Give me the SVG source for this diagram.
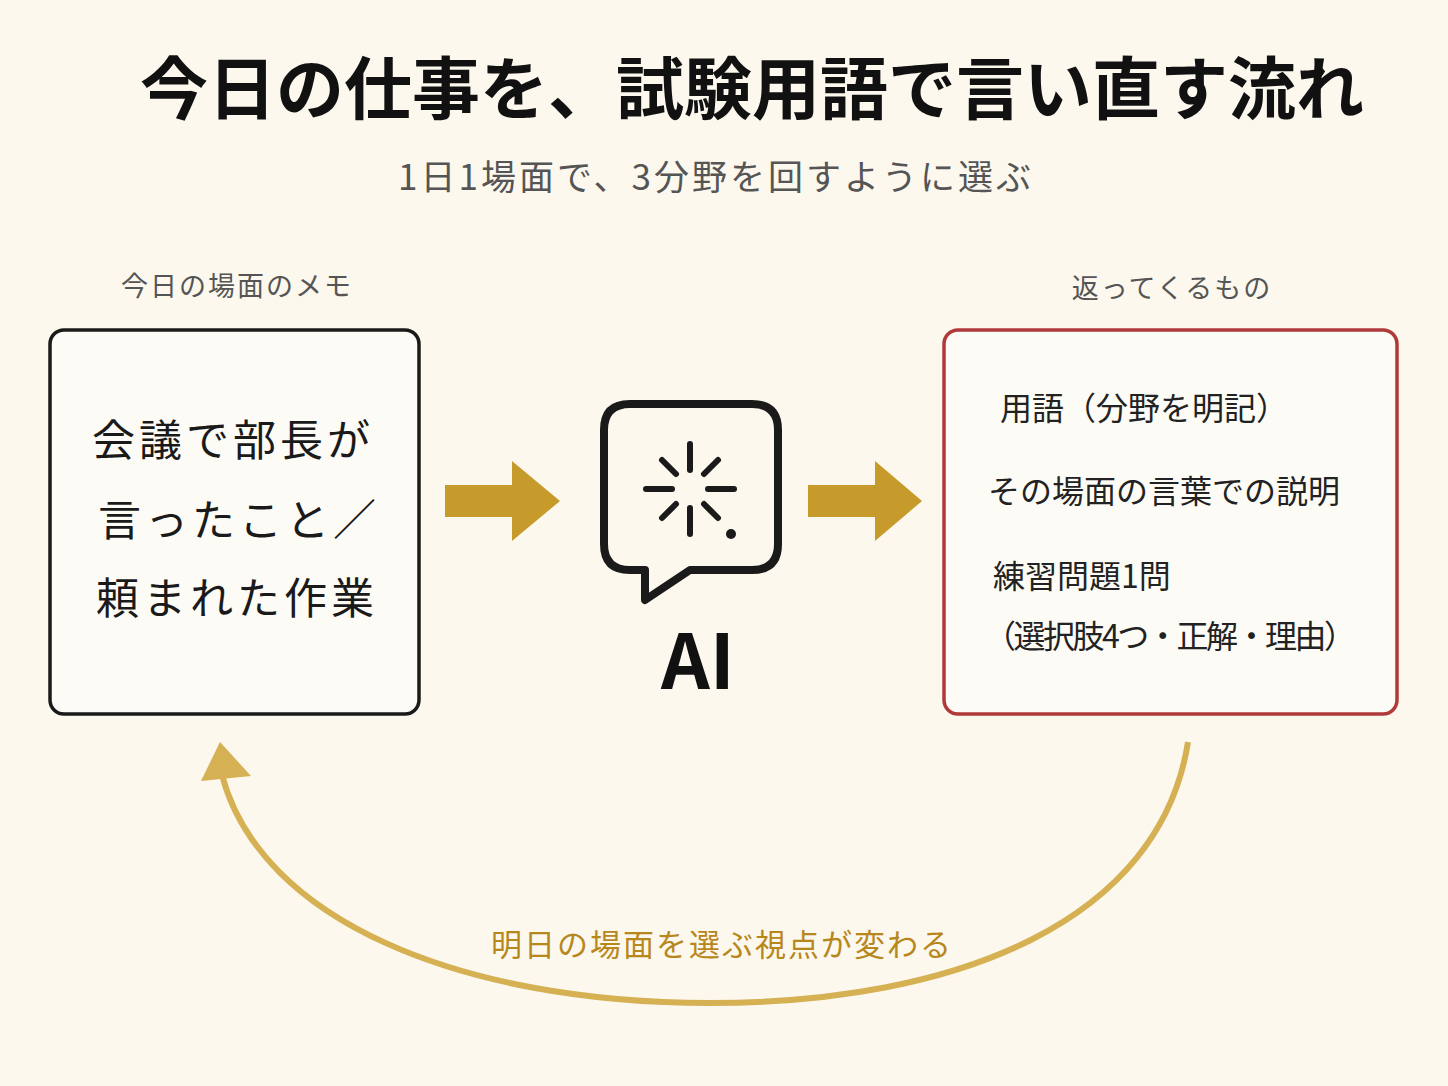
<svg xmlns="http://www.w3.org/2000/svg" width="1448" height="1086" viewBox="0 0 1448 1086">
<style>
text{font-family:"Noto Sans CJK JP","Noto Sans",sans-serif}
.lbl{font-size:27px;fill:#555;letter-spacing:2px}
.hand{font-size:43px;fill:#1a1a1a;letter-spacing:4px}
.out{font-size:32px;fill:#222}
</style>
<rect width="1448" height="1086" fill="#fcf8ee"/>
<text x="752" y="114" text-anchor="middle" font-size="68" font-weight="700" fill="#111">今日の仕事を、試験用語で言い直す流れ</text>
<text x="716" y="190" text-anchor="middle" font-size="35" fill="#555" letter-spacing="3">1日1場面で、3分野を回すように選ぶ</text>
<g id="input">
<text class="lbl" x="237" y="296" text-anchor="middle">今日の場面のメモ</text>
<rect x="50" y="330" width="369" height="384" rx="14" fill="#fdfbf5" stroke="#1a1a1a" stroke-width="3.5"/>
<text class="hand" x="92" y="456">会議で部長が</text>
<text class="hand" x="98" y="536">言ったこと／</text>
<text class="hand" x="96" y="614">頼まれた作業</text>
</g>
<g id="ai">
<path d="M630 404 H752 Q778 404 778 430 V544 Q778 570 752 570 H690 L645 600 V570 H630 Q604 570 604 544 V430 Q604 404 630 404 Z" fill="none" stroke="#1a1a1a" stroke-width="8" stroke-linejoin="round"/>
<g stroke="#1a1a1a" stroke-width="6" stroke-linecap="round">
<line x1="690" y1="444" x2="690" y2="470"/><line x1="690" y1="508" x2="690" y2="534"/>
<line x1="646" y1="489" x2="672" y2="489"/><line x1="708" y1="489" x2="734" y2="489"/>
<line x1="662" y1="460" x2="676" y2="474"/><line x1="704" y1="474" x2="718" y2="460"/>
<line x1="662" y1="518" x2="676" y2="504"/><line x1="704" y1="504" x2="718" y2="518"/>
</g>
<circle cx="731" cy="534" r="5" fill="#1a1a1a"/>
<text x="698" y="689" text-anchor="middle" font-size="76" font-weight="700" fill="#111" font-family="Inter,sans-serif">AI</text>
</g>
<g id="output">
<text class="lbl" x="1172" y="298" text-anchor="middle">返ってくるもの</text>
<rect x="944" y="330" width="453" height="384" rx="14" fill="#fdfbf5" stroke="#b0393a" stroke-width="3.5"/>
<text class="out" x="1000" y="420">用語（分野を明記）</text>
<text class="out" x="988" y="503">その場面の言葉での説明</text>
<text class="out" x="993" y="588">練習問題1問</text>
<text class="out" x="984" y="648" textLength="372">（選択肢4つ・正解・理由）</text>
</g>
<g id="connectors">
<polygon points="445,485 512,485 512,461 560,501 512,541 512,517 445,517" fill="#c69a2b"/>
<polygon points="808,485 875,485 875,461 922,501 875,541 875,517 808,517" fill="#c69a2b"/>
<path d="M1188 742 C1160 920 960 1003 710 1003 C460 1003 260 920 222 775" fill="none" stroke="#d6b154" stroke-width="6"/>
<polygon points="220,742 201,781 251,776" fill="#d6b154"/>
<text x="722" y="956" text-anchor="middle" font-size="31" fill="#b8871c" letter-spacing="2">明日の場面を選ぶ視点が変わる</text>
</g>
</svg>
